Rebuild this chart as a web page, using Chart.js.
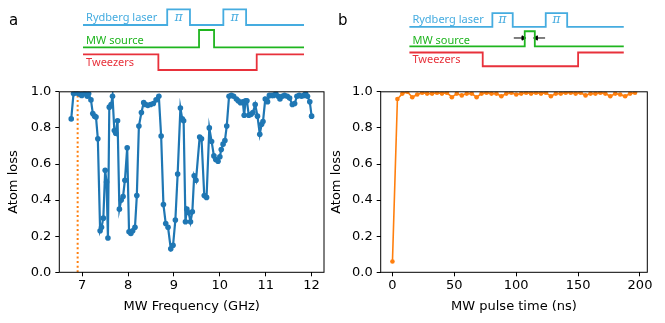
<!DOCTYPE html>
<html>
<head>
<meta charset="utf-8">
<script src="https://cdn.jsdelivr.net/npm/chart.js@4"></script>
<style>
  body { margin: 0; background: #fff; }
  #wrap { position: relative; width: 665px; height: 323px; overflow: hidden; }
  canvas { position: absolute; }
</style>
</head>
<body>
<div id="wrap">
  <canvas id="schemA" width="330" height="80" style="left:0;top:0"></canvas>
  <canvas id="schemB" width="335" height="80" style="left:330px;top:0"></canvas>
  <canvas id="plotA" width="328" height="243" style="left:0;top:80px"></canvas>
  <canvas id="plotB" width="340" height="243" style="left:325px;top:80px"></canvas>
</div>
<script>
// panel a: loss vs MW frequency
const freqA = [6.76, 6.81, 6.84, 6.88, 6.92, 6.96, 6.99, 7.03, 7.07, 7.11, 7.14, 7.19, 7.23, 7.27, 7.30,
  7.34, 7.39, 7.42, 7.46, 7.50, 7.53, 7.56, 7.59, 7.63, 7.66, 7.70, 7.73, 7.77, 7.81, 7.85, 7.89, 7.93,
  7.98, 8.02, 8.06, 8.10, 8.15, 8.19, 8.235, 8.29, 8.34, 8.38, 8.43, 8.49, 8.55, 8.61, 8.67, 8.72, 8.77,
  8.82, 8.87, 8.93, 8.98, 9.03, 9.08, 9.14, 9.18, 9.21, 9.25, 9.28, 9.32, 9.36, 9.40, 9.44, 9.48, 9.56,
  9.60, 9.66, 9.71, 9.77, 9.82, 9.87, 9.91, 9.96, 10.00, 10.03, 10.07, 10.11, 10.15, 10.20, 10.25, 10.30,
  10.36, 10.40, 10.45, 10.50, 10.53, 10.56, 10.59, 10.63, 10.68, 10.72, 10.77, 10.82, 10.87, 10.91, 10.94,
  10.99, 11.04, 11.08, 11.13, 11.17, 11.22, 11.27, 11.31, 11.36, 11.41, 11.47, 11.52, 11.58, 11.63, 11.68,
  11.73, 11.78, 11.83, 11.87, 11.91, 11.96, 12.00];
const lossA = [0.85, 0.99, 0.995, 0.995, 0.99, 0.985, 0.98, 0.995, 0.99, 0.975, 0.99, 0.955, 0.88, 0.865, 0.86,
  0.74, 0.23, 0.25, 0.30, 0.565, 0.50, 0.19, 0.915, 0.93, 0.975, 0.785, 0.77, 0.84, 0.35, 0.40, 0.42, 0.51,
  0.69, 0.225, 0.215, 0.23, 0.25, 0.425, 0.81, 0.885, 0.94, 0.93, 0.925, 0.93, 0.935, 0.955, 0.975, 0.755, 0.375,
  0.27, 0.25, 0.13, 0.15, 0.29, 0.545, 0.91, 0.85, 0.84, 0.28, 0.35, 0.33, 0.28, 0.335, 0.535, 0.51, 0.75,
  0.74, 0.425, 0.415, 0.80, 0.725, 0.645, 0.625, 0.615, 0.64, 0.68, 0.71, 0.73, 0.81, 0.975, 0.98, 0.975,
  0.96, 0.95, 0.94, 0.945, 0.87, 0.95, 0.95, 0.87, 0.875, 0.885, 0.93, 0.865, 0.765, 0.82, 0.835,
  0.96, 0.945, 0.98, 0.98, 0.98, 0.99, 0.975, 0.96, 0.975, 0.98, 0.975, 0.965, 0.93, 0.935, 0.975,
  0.98, 0.975, 0.98, 0.99, 0.975, 0.945, 0.865];
const markerFreq = 6.9;

// panel b: loss vs MW pulse time
const timeB = [0, 4, 8, 12, 16, 20, 24, 28, 32, 36, 40, 44, 48, 52, 56, 60, 64, 68, 72, 76, 80, 84, 88, 92, 96,
  100, 104, 108, 112, 116, 120, 124, 128, 132, 136, 140, 144, 148, 152, 156, 160, 164, 168, 172, 176, 180,
  184, 188, 192, 196];
const lossB = [0.06, 0.96, 0.99, 1.0, 0.97, 0.985, 0.995, 0.99, 0.99, 0.995, 0.99, 0.995, 0.97, 0.99, 0.98,
  0.99, 0.99, 0.97, 0.99, 0.995, 0.99, 0.99, 0.975, 0.99, 0.995, 0.985, 0.99, 0.995, 0.99, 0.995, 0.99, 0.995,
  0.975, 0.99, 0.99, 0.995, 0.995, 0.99, 0.995, 0.98, 0.99, 0.99, 0.995, 0.99, 0.975, 0.99, 0.985, 0.975,
  0.99, 0.995];

const yTicks = [0, 0.2, 0.4, 0.6, 0.8, 1.0];
const xTicksA = [7, 8, 9, 10, 11, 12];
const xTicksB = [0, 50, 100, 150, 200];

// pulse sequences (arbitrary time units 0..100): [start, edge, edge, ..., end]
const rydbergA = [0, 38.1, 48.4, 63.5, 73.8, 100];
const mwA = [0, 52.5, 59.3, 100];
const tweezersA = [0, 34.1, 78.6, 100];
const rydbergB = [0, 38.7, 48.2, 63.6, 73.6, 100];
const mwB = [0, 53.8, 58.5, 100];
const tweezersB = [0, 34.2, 78.7, 100];
const pulseArrowsB = [[48.7, 53.1], [63.3, 59.1]];

const BLUE = '#1f77b4';
const ORANGE = '#ff7f0e';
const LASER = '#45ace0';
const MW = '#1fb51f';
const TWEEZ = '#e8313b';
const FONT = { family: 'DejaVu Sans', size: 13 };

// lane rows: [low, high]
const lanes = { rydberg: [25, 9.3], mw: [47.3, 30], tweezers: [70, 54.3] };

function steps(edges, low, high, startHigh) {
    const pts = [];
    let up = startHigh;
    pts.push({ x: edges[0], y: up ? high : low });
    for (let i = 1; i < edges.length - 1; i++) {
        pts.push({ x: edges[i], y: up ? high : low });
        up = !up;
        pts.push({ x: edges[i], y: up ? high : low });
    }
    pts.push({ x: edges[edges.length - 1], y: up ? high : low });
    return pts;
}

function traceSet(pts, color) {
    return { data: pts, borderColor: color, borderWidth: 1.8, pointRadius: 0, showLine: true, clip: false };
}

const schemText = {
    id: 'schemText',
    afterDraw(chart) {
        const o = chart.options.plugins.schemText;
        const { ctx } = chart;
        const sx = chart.scales.x, sy = chart.scales.y;
        ctx.save();
        ctx.font = '15px "DejaVu Sans"';
        ctx.fillStyle = '#000';
        ctx.textBaseline = 'middle';
        ctx.fillText(o.letter, o.letterX, 21);
        ctx.font = '11px "Noto Sans"';
        ctx.textBaseline = 'alphabetic';
        ctx.fillStyle = LASER;
        ctx.fillText('Rydberg laser', sx.getPixelForValue(1.4), sy.getPixelForValue(21));
        ctx.fillStyle = MW;
        ctx.fillText('MW source', sx.getPixelForValue(1.4), sy.getPixelForValue(44.3));
        ctx.fillStyle = TWEEZ;
        ctx.fillText('Tweezers', sx.getPixelForValue(1.4), sy.getPixelForValue(65.8));
        ctx.font = 'italic 12px "DejaVu Serif"';
        ctx.fillStyle = LASER;
        ctx.textAlign = 'center';
        const r = o.rydberg;
        [[r[1], r[2]], [r[3], r[4]]].forEach(([a, b]) => {
            ctx.fillText('\u03c0', sx.getPixelForValue((a + b) / 2), sy.getPixelForValue(20.5));
        });
        ctx.restore();
    }
};

function makeSchematic(id, letter, letterX, rydberg, mw, tweezers, xmin, xmax, arrows) {
    const datasets = [
        traceSet(steps(rydberg, lanes.rydberg[0], lanes.rydberg[1], false), LASER),
        traceSet(steps(mw, lanes.mw[0], lanes.mw[1], false), MW),
        traceSet(steps(tweezers, lanes.tweezers[0], lanes.tweezers[1], true), TWEEZ)
    ];
    (arrows || []).forEach(a => {
        datasets.push({
            data: [{ x: a[0], y: 37.7 }, { x: a[1], y: 37.7 }],
            borderColor: '#000', backgroundColor: '#000', borderWidth: 1, showLine: true, clip: false,
            pointStyle: 'triangle', pointRadius: [0, 2.5], pointRotation: a[1] > a[0] ? 90 : -90
        });
    });
    return new Chart(document.getElementById(id), {
        type: 'scatter',
        data: { datasets },
        options: {
            responsive: false,
            animation: false,
            layout: { padding: 0 },
            plugins: { legend: { display: false }, tooltip: { enabled: false }, schemText: { letter, letterX, rydberg } },
            scales: {
                x: { type: 'linear', display: false, min: xmin, max: xmax },
                y: { type: 'linear', display: false, min: 0, max: 80, reverse: true }
            }
        },
        plugins: [schemText]
    });
}

const frame = {
    id: 'frame',
    afterDraw(chart) {
        const { ctx, chartArea: a } = chart;
        ctx.save();
        ctx.strokeStyle = '#000';
        ctx.lineWidth = 1;
        ctx.strokeRect(a.left, a.top, a.width, a.height);
        ctx.restore();
    }
};

function fixedTicks(values) {
    return scale => { scale.ticks = values.map(v => ({ value: v })); };
}

function axes(xmin, xmax, xTicks, xTitle, yWidth, titleGap) {
    return {
        x: {
            type: 'linear', min: xmin, max: xmax,
            afterBuildTicks: fixedTicks(xTicks),
            afterFit: s => { s.height = 50.7; },
            ticks: { color: '#000', font: FONT, padding: 2, maxRotation: 0 },
            grid: { drawOnChartArea: false, tickLength: 4, color: '#000' },
            border: { display: false },
            title: { display: true, text: xTitle, color: '#000', font: FONT, padding: { top: 0, bottom: 9 } }
        },
        y: {
            type: 'linear', min: 0, max: 1,
            afterBuildTicks: fixedTicks(yTicks),
            afterFit: s => { s.width = yWidth; },
            ticks: { color: '#000', font: FONT, padding: 4, callback: v => v.toFixed(1) },
            grid: { drawOnChartArea: false, tickLength: 4, color: '#000' },
            border: { display: false },
            title: { display: true, text: 'Atom loss', color: '#000', font: FONT, padding: { top: titleGap, bottom: 0 } }
        }
    };
}

makeSchematic('schemA', 'a', 9, rydbergA, mwA, tweezersA, -37.56, 111.76);
makeSchematic('schemB', 'b', 8, rydbergB, mwB, tweezersB, -34.71, 116.9, pulseArrowsB);

new Chart(document.getElementById('plotA'), {
    type: 'scatter',
    data: {
        datasets: [
            {
                data: freqA.map((f, i) => ({ x: f, y: lossA[i] })),
                showLine: true, borderColor: BLUE, backgroundColor: BLUE, borderWidth: 2.2,
                pointRadius: 2.8, pointBorderWidth: 0, order: 1
            },
            {
                data: [{ x: markerFreq, y: 0 }, { x: markerFreq, y: 1 }],
                showLine: true, borderColor: ORANGE, borderWidth: 2, borderDash: [2, 2.6],
                pointRadius: 0, order: 2
            }
        ]
    },
    options: {
        responsive: false,
        animation: false,
        layout: { padding: { top: 10, right: 1, left: 0, bottom: 0 } },
        plugins: { legend: { display: false }, tooltip: { enabled: false } },
        scales: axes(6.5, 12.27, xTicksA, 'MW Frequency (GHz)', 59.3, 5.5)
    },
    plugins: [frame]
});

new Chart(document.getElementById('plotB'), {
    type: 'scatter',
    data: {
        datasets: [{
            data: timeB.map((t, i) => ({ x: t, y: lossB[i] })),
            showLine: true, borderColor: ORANGE, backgroundColor: ORANGE, borderWidth: 1.6,
            pointRadius: 2.3, pointBorderWidth: 0
        }]
    },
    options: {
        responsive: false,
        animation: false,
        layout: { padding: { top: 10, right: 17.7, left: 0, bottom: 0 } },
        plugins: { legend: { display: false }, tooltip: { enabled: false } },
        scales: axes(-9.5, 205.9, xTicksB, 'MW pulse time (ns)', 55.7, 3.5)
    },
    plugins: [frame]
});
</script>
</body>
</html>
